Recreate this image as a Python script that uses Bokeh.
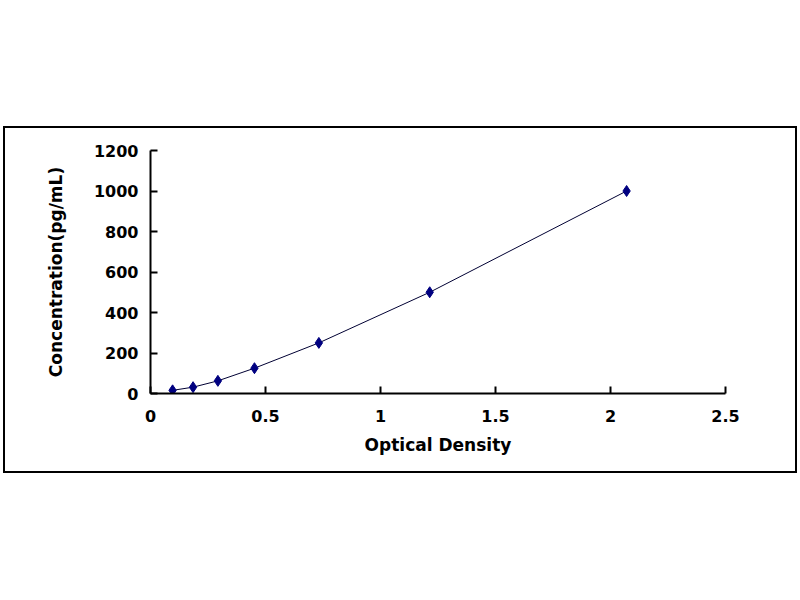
from bokeh.plotting import figure
from bokeh.models import Range1d, FixedTicker
from bokeh.embed import file_html
from bokeh.resources import INLINE

# Standard curve data
optical_density = [0.096, 0.185, 0.293, 0.452, 0.732, 1.214, 2.07]
concentration = [15.6, 31.25, 62.5, 125, 250, 500, 1000]

x_ticks = [0, 0.5, 1, 1.5, 2, 2.5]
y_ticks = [0, 200, 400, 600, 800, 1000, 1200]

FONT = "DejaVu Sans"

p = figure(width=790, height=343, output_backend="svg", toolbar_location=None,
           x_range=Range1d(0, 2.5), y_range=Range1d(0, 1200),
           min_border_left=145, min_border_right=70,
           min_border_top=22, min_border_bottom=78)
p.frame_width = 575
p.frame_height = 243
p.margin = (126, 0, 0, 3)
p.styles = {"border": "2px solid black"}
p.background_fill_color = "white"
p.border_fill_color = "white"
p.outline_line_color = None
p.grid.visible = False

p.line(optical_density, concentration, line_color="#000033", line_width=1)
p.scatter(optical_density, concentration, marker="diamond", size=11,
          fill_color="#000080", line_color="#000080")

for ax in (p.xaxis[0], p.yaxis[0]):
    ax.axis_line_width = 2
    ax.axis_line_color = "black"
    ax.major_tick_line_width = 2
    ax.major_tick_line_color = "black"
    ax.major_tick_in = 7
    ax.major_tick_out = 0
    ax.minor_tick_line_color = None
    ax.major_label_text_font = FONT
    ax.major_label_text_font_style = "bold"
    ax.major_label_text_font_size = "16px"
    ax.major_label_text_color = "black"
    ax.axis_label_text_font = FONT
    ax.axis_label_text_font_style = "bold"
    ax.axis_label_text_font_size = "17px"
    ax.axis_label_text_color = "black"

p.xaxis[0].ticker = FixedTicker(ticks=x_ticks)
p.yaxis[0].ticker = FixedTicker(ticks=y_ticks)
p.xaxis[0].axis_label = "Optical Density"
p.yaxis[0].axis_label = "Concentration(pg/mL)"
p.xaxis[0].major_label_standoff = 16
p.yaxis[0].major_label_standoff = 12
p.xaxis[0].axis_label_standoff = 10
p.yaxis[0].axis_label_standoff = 25

open("out.html", "w").write(file_html(p, INLINE))
